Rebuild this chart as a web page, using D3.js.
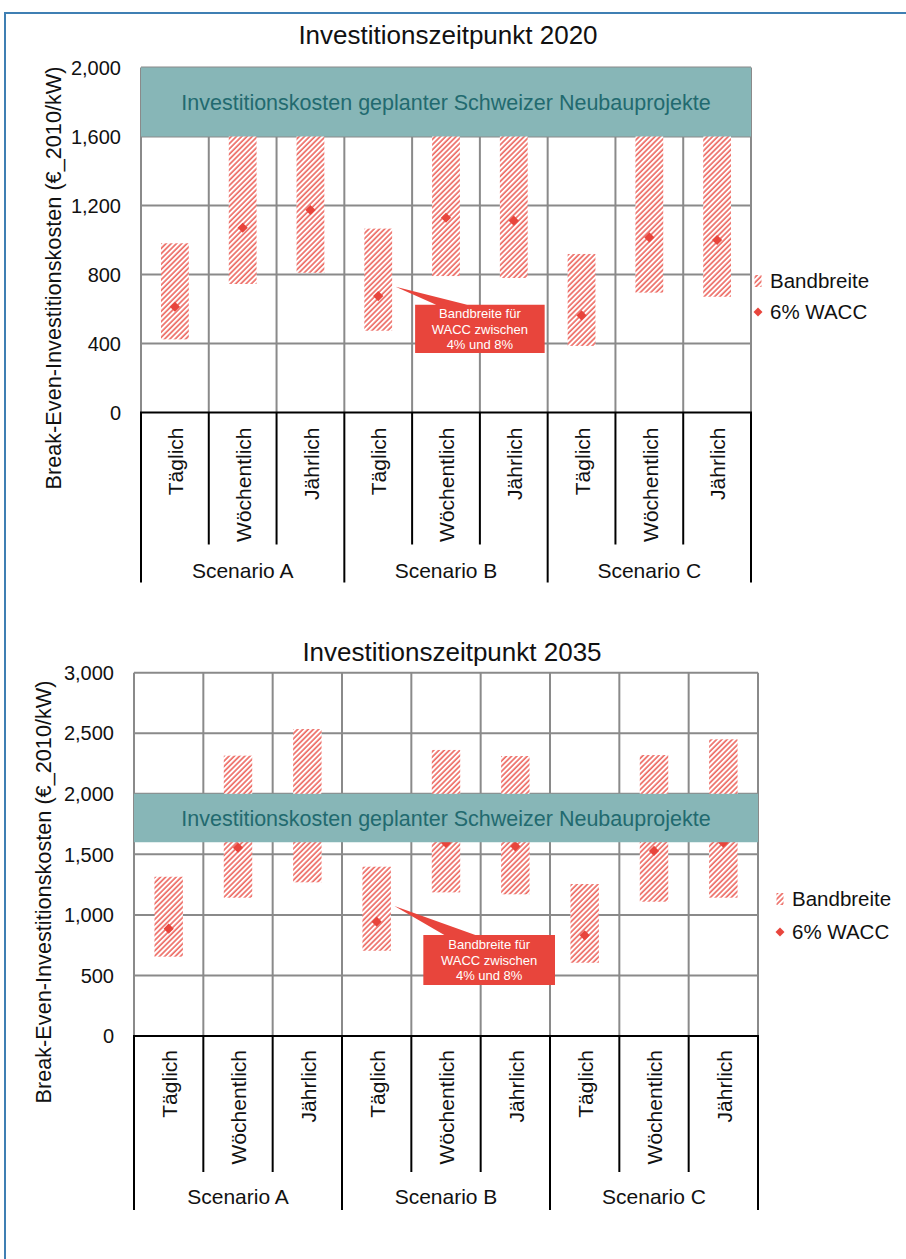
<!DOCTYPE html>
<html><head><meta charset="utf-8">
<script src="https://cdn.jsdelivr.net/npm/d3@7"></script>
<style>
html,body{margin:0;padding:0;background:#fff;}
svg{display:block;font-family:"Liberation Sans",Arial,sans-serif;}
</style></head>
<body>
<svg id="c" width="906" height="1259"></svg>
<script>
// ---------- data ----------
const scenarios = ["Scenario A", "Scenario B", "Scenario C"];
const categories = ["Täglich", "Wöchentlich", "Jährlich"];
// 2020 (Bandbreite low/high for WACC 4%..8%, marker = 6% WACC)
const low2020  = [424, 745, 810, 474, 791, 780, 386, 695, 671];
const high2020 = [981, 1850, 1850, 1066, 1850, 1850, 919, 1850, 1850];
const wacc2020 = [613, 1071, 1174, 675, 1129, 1112, 563, 1015, 1000];
// 2035
const low2035  = [655, 1142, 1269, 704, 1186, 1170, 605, 1109, 1142];
const high2035 = [1315, 2315, 2535, 1398, 2362, 2312, 1255, 2320, 2450];
const wacc2035 = [886, 1555, 1710, 944, 1594, 1566, 831, 1528, 1596];
const ticks2020 = [0, 400, 800, 1200, 1600, 2000];
const ticks2035 = [0, 500, 1000, 1500, 2000, 2500, 3000];
const neubauBand = [1600, 2000];
const bandLabel = "Investitionskosten geplanter Schweizer Neubauprojekte";
const legendLabels = ["Bandbreite", "6% WACC"];
const calloutLines = ["Bandbreite für", "WACC zwischen", "4% und 8%"];
const yTitle = "Break-Even-Investitionskosten (€_2010/kW)";

// ---------- styles ----------
const RED = "#e8453c";
const TEAL = "#87b6b7";
const TEAL_TEXT = "#226a6f";
const GRID = "#8a8a8a";

const svg = d3.select("#c");
const defs = svg.append("defs");
const P = 3.7;
const pat = defs.append("pattern").attr("id", "hatch")
  .attr("patternUnits", "userSpaceOnUse").attr("width", P).attr("height", P)
  .attr("patternTransform", "rotate(45)");
pat.append("rect").attr("width", P).attr("height", P).attr("fill", "#fff");
pat.append("line").attr("x1", 1).attr("y1", 0).attr("x2", 1).attr("y2", P)
  .attr("stroke", "#ea4f46").attr("stroke-width", 1.4);

// outer frame
svg.append("line").attr("x1", 5).attr("y1", 13).attr("x2", 5).attr("y2", 1259).attr("stroke", "#3f7fb3").attr("stroke-width", 2);
svg.append("line").attr("x1", 4).attr("y1", 13).attr("x2", 906).attr("y2", 13).attr("stroke", "#3f7fb3").attr("stroke-width", 2);

const ids = [];
scenarios.forEach(s => categories.forEach(c => ids.push(s + "|" + c)));

function drawChart(cfg) {
  const g = svg.append("g");
  const x = d3.scaleBand().domain(ids).range([cfg.left, cfg.right]).padding(0);
  const y = d3.scaleLinear().domain([0, cfg.max]).range([cfg.y0, cfg.yTop]);
  const bw = x.bandwidth();
  const rows = ids.map((id, i) => ({id, lo: cfg.low[i], hi: cfg.high[i], w: cfg.wacc[i]}));

  // title
  g.append("text").attr("x", cfg.titleX).attr("y", cfg.titleY).attr("text-anchor", "middle")
    .attr("font-size", 26).attr("fill", "#111").text(cfg.title);

  // horizontal grid
  g.selectAll(".hg").data(cfg.ticks.filter(t => t > 0)).join("line")
    .attr("x1", cfg.left).attr("x2", cfg.right).attr("y1", d => y(d)).attr("y2", d => y(d))
    .attr("stroke", GRID).attr("stroke-width", 2);
  // vertical grid
  const vx = ids.map(id => x(id)).concat([cfg.right]);
  g.selectAll(".vg").data(vx).join("line")
    .attr("x1", d => d).attr("x2", d => d).attr("y1", y(cfg.max)).attr("y2", y(0))
    .attr("stroke", GRID).attr("stroke-width", 2);

  // hatched range bars
  g.selectAll(".bar").data(rows).join("rect")
    .attr("x", d => x(d.id) + bw / 2 - bw * 0.205).attr("width", bw * 0.41)
    .attr("y", d => y(d.hi)).attr("height", d => y(d.lo) - y(d.hi))
    .attr("fill", "url(#hatch)");
  // 6% WACC diamonds
  g.selectAll(".dia").data(rows).join("path")
    .attr("d", d3.symbol(d3.symbolSquare, 52))
    .attr("transform", d => `translate(${x(d.id) + bw / 2},${y(d.w)}) rotate(45)`)
    .attr("fill", RED);

  // Neubau band
  g.append("rect").attr("x", cfg.left).attr("width", cfg.right - cfg.left)
    .attr("y", y(neubauBand[1])).attr("height", y(neubauBand[0]) - y(neubauBand[1]))
    .attr("fill", TEAL);
  g.append("text").attr("x", (cfg.left + cfg.right) / 2)
    .attr("y", (y(neubauBand[0]) + y(neubauBand[1])) / 2).attr("dy", "0.36em")
    .attr("text-anchor", "middle").attr("font-size", 21.5).attr("fill", TEAL_TEXT).text(bandLabel);

  // zero axis line
  g.append("line").attr("x1", cfg.left - 1).attr("x2", cfg.right + 1).attr("y1", y(0)).attr("y2", y(0))
    .attr("stroke", "#000").attr("stroke-width", 2.2);

  // category separators
  ids.forEach((id, i) => {
    const outer = i % 3 === 0;
    g.append("line").attr("x1", x(id)).attr("x2", x(id)).attr("y1", y(0))
      .attr("y2", y(0) + (outer ? cfg.outerLen : cfg.innerLen)).attr("stroke", "#000").attr("stroke-width", 2);
  });
  g.append("line").attr("x1", cfg.right).attr("x2", cfg.right).attr("y1", y(0))
    .attr("y2", y(0) + cfg.outerLen).attr("stroke", "#000").attr("stroke-width", 2);

  // category labels (rotated)
  rows.forEach(d => {
    const cat = d.id.split("|")[1];
    g.append("text")
      .attr("transform", `translate(${x(d.id) + bw / 2 + 8.2},${y(0) + cfg.catOffset}) rotate(-90)`)
      .attr("text-anchor", "end").attr("font-size", 21).attr("fill", "#111").text(cat);
  });
  // scenario labels
  scenarios.forEach((s, i) => {
    const x0 = x(s + "|" + categories[0]);
    const x1 = x(s + "|" + categories[2]) + bw;
    g.append("text").attr("x", (x0 + x1) / 2).attr("y", y(0) + cfg.scenOffset)
      .attr("text-anchor", "middle").attr("font-size", 21).attr("fill", "#111").text(s);
  });

  // y tick labels
  g.selectAll(".yt").data(cfg.ticks).join("text")
    .attr("x", cfg.left - 20).attr("y", d => y(d)).attr("dy", "0.36em")
    .attr("text-anchor", "end").attr("font-size", 20).attr("fill", "#111")
    .text(d => d3.format(",")(d));

  // y title
  g.append("text").attr("transform", `translate(${cfg.yTitleX},${cfg.yTitleY}) rotate(-90)`)
    .attr("text-anchor", "middle").attr("font-size", 21.7).attr("fill", "#111").text(yTitle);

  // legend
  const lg = g.append("g");
  lg.append("rect").attr("x", cfg.legX - 3.5).attr("y", cfg.legY1 - 6).attr("width", 7).attr("height", 12)
    .attr("fill", "url(#hatch)");
  lg.append("path").attr("d", d3.symbol(d3.symbolSquare, 40))
    .attr("transform", `translate(${cfg.legX},${cfg.legY2}) rotate(45)`).attr("fill", RED);
  [cfg.legY1, cfg.legY2].forEach((ly, i) => {
    lg.append("text").attr("x", cfg.legX + 12).attr("y", ly).attr("dy", "0.36em")
      .attr("font-size", 20.5).attr("fill", "#111").text(legendLabels[i]);
  });

  // callout
  const tipX = x("Scenario B|Täglich") + bw / 2 + bw * 0.205 + 3.5;
  const tipY = y(cfg.call.tip);
  const bx0 = x("Scenario B|Wöchentlich") + cfg.call.dx0;
  const bx1 = x("Scenario B|Jährlich") + bw + cfg.call.dx1;
  const by0 = y(cfg.call.top), by1 = y(cfg.call.bottom);
  const p = d3.path();
  p.moveTo(bx0, by0); p.lineTo(bx0 + 21, by0); p.lineTo(tipX, tipY); p.lineTo(bx0 + 52, by0);
  p.lineTo(bx1, by0); p.lineTo(bx1, by1); p.lineTo(bx0, by1); p.closePath();
  g.append("path").attr("d", p.toString()).attr("fill", RED);
  const cy = (by0 + by1) / 2;
  calloutLines.forEach((t, i) => {
    g.append("text").attr("x", (bx0 + bx1) / 2).attr("y", cy + (i - 1) * 15.8).attr("dy", "0.36em")
      .attr("text-anchor", "middle").attr("font-size", 13).attr("fill", "#fff").text(t);
  });
}

drawChart({
  title: "Investitionszeitpunkt 2020", titleX: 448, titleY: 44,
  left: 141, right: 751, y0: 412.5, yTop: 67.5, max: 2000, ticks: ticks2020,
  low: low2020, high: high2020, wacc: wacc2020,
  innerLen: 132, outerLen: 170, catOffset: 15, scenOffset: 165,
  yTitleX: 60.5, yTitleY: 278,
  legX: 758, legY1: 281, legY2: 312,
  call: {tip: 729, top: 625, bottom: 345, dx0: 3, dx1: -3}
});
drawChart({
  title: "Investitionszeitpunkt 2035", titleX: 452, titleY: 661,
  left: 134, right: 758, y0: 1036, yTop: 672.7, max: 3000, ticks: ticks2035,
  low: low2035, high: high2035, wacc: wacc2035,
  innerLen: 136, outerLen: 174, catOffset: 14, scenOffset: 168,
  yTitleX: 51, yTitleY: 892,
  legX: 780, legY1: 899, legY2: 932,
  call: {tip: 1073, top: 834, bottom: 421, dx0: 12, dx1: 5}
});
</script>
</body></html>
